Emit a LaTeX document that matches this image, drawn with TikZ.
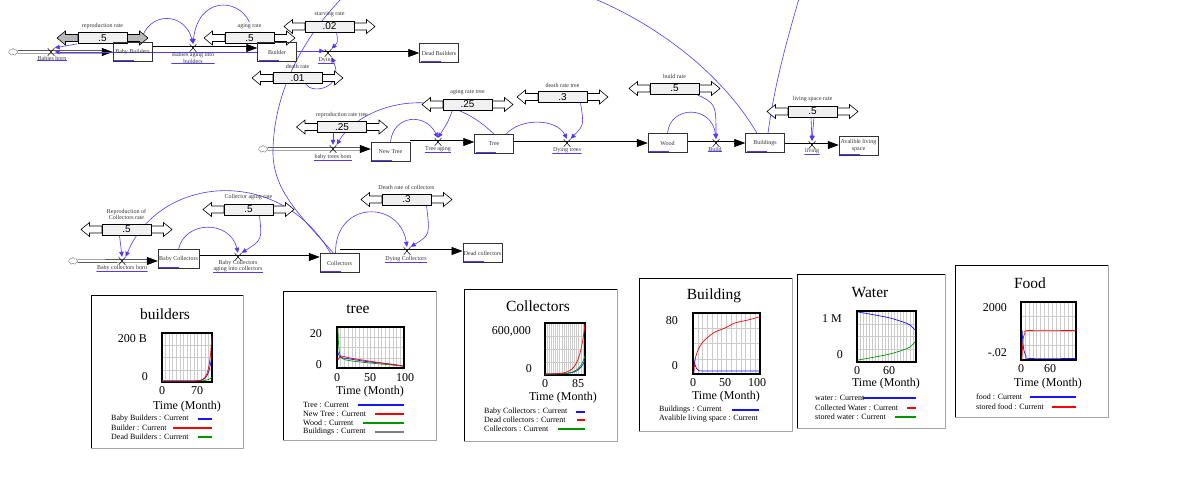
\documentclass[tikz,border=0pt]{standalone}
\usepackage{fontspec}
\setmainfont{Liberation Serif}
\newfontfamily\valfont{Liberation Sans}
\usetikzlibrary{arrows.meta,positioning,calc,shapes.symbols}
\pgfdeclarelayer{behind}
\pgfsetlayers{behind,main}
\definecolor{linkblue}{RGB}{92,52,245}
\definecolor{plotgreen}{RGB}{0,150,0}
\definecolor{plotblue}{RGB}{20,20,255}
\tikzset{
 stock/.style={draw=black!80,line width=.5pt,minimum width=39pt,minimum height=19pt,inner sep=1pt,font=\fontsize{6}{6.5}\selectfont,text=black!80,align=center,
  path picture={\draw[linkblue,line width=.7pt] ([shift={(1pt,1pt)}]path picture bounding box.south west) -- ++(20pt,0);}},
 valve/.style={inner sep=0pt,minimum width=7pt,minimum height=8pt,
  path picture={\draw[line width=.5pt] (path picture bounding box.south west) -- (path picture bounding box.north east) (path picture bounding box.north west) -- (path picture bounding box.south east);}},
 flbl/.style={font=\fontsize{6}{6.5}\selectfont,text=black!80,align=center,inner sep=.6pt,
  path picture={\draw[linkblue,line width=.6pt] ([yshift=.3pt]path picture bounding box.south west) -- ([yshift=.3pt]path picture bounding box.south east);}},
 lbl/.style={font=\fontsize{6}{6.5}\selectfont,text=black!80,align=center,inner sep=.6pt},
 sbox/.style={draw,line width=.6pt,fill=gray!12,minimum width=49pt,minimum height=11pt,inner sep=0pt,font=\valfont\fontsize{10}{10}\selectfont},
 src/.style={cloud,cloud puffs=7,draw=gray,aspect=1.3,minimum width=9pt,minimum height=7pt,inner sep=0pt},
 pipeline/.style={double,double distance=1.8pt,line width=.6pt},
 pipetip/.style={line width=.6pt,-{Triangle[length=11pt,width=8pt]}},
 link/.style={linkblue,line width=.6pt,-{Triangle[length=5pt,width=4.5pt]}},
 linkline/.style={linkblue,line width=.6pt},
 ttl/.style={font=\fontsize{15.5}{15.5}\selectfont,inner sep=0pt},
 ax/.style={font=\fontsize{12}{12}\selectfont,inner sep=0pt},
 lg/.style={font=\fontsize{8}{8}\selectfont,inner sep=0pt,anchor=west},
 legline/.style={line width=1.2pt},
 frame/.style={draw=gray!70,line width=.6pt},
 curve/.style={line width=.7pt}
}
\newcommand\slider[5][white]{%
 \draw[fill=#1,line width=.6pt] (#3) ++(-24.5,3.5) -- ++(-12.5,0) -- ++(0,3.5) -- ++(-8.5,-7) -- ++(8.5,-7) -- ++(0,3.5) -- ++(12.5,0) -- cycle
  (#3) ++(24.5,3.5) -- ++(12.5,0) -- ++(0,3.5) -- ++(8.5,-7) -- ++(-8.5,-7) -- ++(0,3.5) -- ++(-12.5,0) -- cycle;
 \node[sbox] (#2) at (#3) {#4};
 \node[lbl,above=3pt of #2] (#2l) {#5};}
\newcommand\flowpipe[2]{\draw[pipeline] (#1) -- ($(#2)+(-9,0)$); \draw[pipetip] ($(#2)+(-11,0)$) -- (#2);}
\newcommand\plotbox[5]{%
 \fill[white] (#1,#2) rectangle (#3,#4);
 \foreach \i in {1,...,#5}{\draw[gray!40,line width=.5pt] ({#1+(#3-#1)*\i/(#5+1)},#2) -- ({#1+(#3-#1)*\i/(#5+1)},#4);}
 \foreach \j in {1,2,3}{\draw[gray!40,line width=.5pt] (#1,{#2+(#4-#2)*\j/4}) -- (#3,{#2+(#4-#2)*\j/4});}
 \draw[line width=1.8pt] (#1,#2) rectangle (#3,#4);}
\begin{document}
\begin{tikzpicture}[x=1pt,y=-1pt]
\useasboundingbox (0,0) rectangle (1189,489);
\begin{pgfonlayer}{behind}\fill[white] (0,0) rectangle (1189,489);\end{pgfonlayer}
\slider[gray!55]{rr}{102.5,38}{.5}{reproduction rate}
\slider{ar}{249.5,38}{.5}{aging rate}
\slider{sr}{329.5,26.5}{.02}{starving rate}
\slider{dr}{297.5,78}{.01}{death rate}
\slider{rt}{342,127}{.25}{reproduction rate tree}
\slider{agt}{467.5,104.5}{.25}{aging rate tree}
\slider{dt}{562.5,97}{.3}{death rate tree}
\slider{br}{674.5,88.5}{.5}{build rate}
\slider{lr}{812.5,111.5}{.5}{living space rate}
\slider{rcr}{126.5,229.5}{.5}{Reproduction of\\Collectors rate}
\slider{car}{248.5,209.5}{.5}{Collector aging rate}
\slider{dcr}{406.5,199.5}{.3}{Death rate of collectors}
\node[src] (src1) at (13,52) {};
\node[valve] (v1) at (51,52) {};
\node[stock] (bb) at (132.5,52) {Baby Builders};
\node[valve] (v2) at (193,48) {};
\node[stock] (bd) at (277,52) {Builder};
\node[valve] (v3) at (328,53) {};
\node[stock] (db) at (439,53) {Dead Builders};
\node[src] (src2) at (263,149) {};
\node[valve] (v4) at (333,149) {};
\node[stock] (nt) at (390.5,152) {New Tree};
\node[valve] (v5) at (438,142) {};
\node[stock] (tr) at (494,144) {Tree};
\node[valve] (v6) at (567,143) {};
\node[stock] (wd) at (667.5,143) {Wood};
\node[valve] (v7) at (716,143) {};
\node[stock] (bl) at (765,143) {Buildings};
\node[valve] (v8) at (812,145) {};
\node[stock] (als) at (858.5,145.5) {Avalible living\\space};
\node[src] (src3) at (73,261) {};
\node[valve] (v9) at (122,261) {};
\node[stock] (bc) at (178.5,259) {Baby Collectors};
\node[valve] (v10) at (238,257) {};
\node[stock] (co) at (339.5,263) {Collectors};
\node[valve] (v11) at (407,251) {};
\node[stock] (dco) at (482.5,253) {Dead collectors};
\node[flbl] (f1) at (52,58) {Babies born};
\node[flbl] (f2) at (193,58) {Babies aging into\\builders};
\node[flbl] (f3) at (326,60) {Dying};
\node[flbl] (f4) at (333,157) {baby trees born};
\node[flbl] (f5) at (438,149) {Tree aging};
\node[flbl] (f6) at (567,150) {Dying trees};
\node[flbl] (f7) at (715,149) {Build};
\node[flbl] (f8) at (812,151) {living};
\node[flbl] (f9) at (122,268) {Baby collectors born};
\node[flbl] (f10) at (238,266) {Baby Collectors\\aging into collectors};
\node[flbl] (f11) at (406,259) {Dying Collectors};
\coordinate (topa) at (585,-5);
\coordinate (topb) at (800,-5);
\coordinate (topc) at (345,-5);
\coordinate (bend1) at (273,150);
\begin{pgfonlayer}{behind}
\flowpipe{src1.east}{v1 -| bb.west}
\flowpipe{bb.east |- v2}{v2 -| bd.west}
\flowpipe{bd.east |- v3}{v3 -| db.west}
\flowpipe{src2.east}{v4 -| nt.west}
\flowpipe{nt.east |- v5}{v5 -| tr.west}
\flowpipe{tr.east |- v6}{v6 -| wd.west}
\flowpipe{wd.east |- v7}{v7 -| bl.west}
\flowpipe{bl.east |- v8}{v8 -| als.west}
\flowpipe{src3.east}{v9 -| bc.west}
\flowpipe{bc.east |- v10}{v10 -| co.west}
\flowpipe{co.north |- v11}{v11 -| dco.west}
\draw[link] (rr.south west) -- (v1.north east);
\draw[link] (bd.west |- v1) -- (v1.east);
\draw[link] ([xshift=8pt]bb.north) .. controls (148,10) and (185,12) .. (v2.north);
\draw[link] (arl.north) .. controls (238,-3) and (198,-3) .. (v2.north);
\draw[link] ([xshift=7pt]sr.south) .. controls (338,42) .. (v3.north east);
\draw[link] ($(bd.east |- v3)+(0,-2)$) -- ($(v3.west)+(0,-2)$);
\draw[link] ([xshift=8pt]dr.south) .. controls (312,95) and (345,88) .. (v3.south east);
\draw[link] ([xshift=-9pt]rt.south) -- (v4.north);
\draw[link] (tr.north) .. controls (440,80) and (360,105) .. (v4.north east);
\draw[link] (nt.north) .. controls (393,115) and (425,112) .. (v5.north);
\draw[link] ([xshift=-15pt]agt.south) .. controls (448,122) .. (v5.north);
\draw[link] ([xshift=12pt]tr.north) .. controls (520,118) and (556,118) .. (v6.north);
\draw[link] ([xshift=18pt]dt.south) .. controls (584,125) .. (v6.north east);
\draw[link] (wd.north) .. controls (670,105) and (712,105) .. (v7.north);
\draw[link] ([xshift=22pt]br.south) .. controls (716,104) .. (v7.north);
\draw[link] ([xshift=-1.5pt]lr.south) -- (v8.north);
\draw[link] ([xshift=1.5pt]lr.south) -- (v8.north);
\draw[linkline] ([xshift=-8pt]bl.north) .. controls (720,70) and (650,20) .. (topa);
\draw[linkline] ([xshift=3pt]bl.north) .. controls (775,80) and (790,30) .. (topb);
\draw[link] ([xshift=-7pt]rcr.south) -- (v9.north);
\draw[link] ([xshift=-9pt]co.north) .. controls (280,165) and (160,175) .. (v9.north east);
\draw[link] ([xshift=11pt]car.south) .. controls (262,240) .. (v10.north east);
\draw[link] (bc.north) .. controls (185,220) and (230,220) .. (v10.north);
\draw[link] ([xshift=20pt]dcr.south) .. controls (430,235) .. (v11.north east);
\draw[link] ([xshift=-4pt]co.north) .. controls (335,200) and (400,200) .. (v11.north);
\draw[linkline] ([xshift=-6pt]co.north) .. controls (300,215) and (272,190) .. (bend1) .. controls (274,95) and (300,40) .. (topc);
\end{pgfonlayer}
\draw[frame] (91,295) rectangle (243,448); \draw[line width=.6pt] (91,448) -- (91,295) -- (243,295);
\node[ttl] (cb) at (165,314) {builders};
\plotbox{162}{333}{212}{382}{13}
\draw[plotgreen,curve] plot[domain=0:1,samples=40] ({162+50*\x},{381-4*exp(14*(\x-1))});
\draw[plotblue,curve] plot[domain=0:1,samples=40] ({162+50*\x},{381-27*exp(16*(\x-1))});
\draw[red,curve] plot[domain=0:1,samples=40] ({162+50*\x},{381-45*exp(18*(\x-1))});
\node[ax,anchor=east] (cb1) at (147,339) {200 B};
\node[ax,anchor=east] (cb2) at (148,377) {0};
\node[ax] (cb3) at (162,391) {0};
\node[ax] (cb4) at (197,391) {70};
\node[ax] (cb5) at (187,407) {Time (Month)};
\foreach \t/\lc/\s/\y [count=\k] in {Baby Builders/plotblue/198/419,Builder/red/173/428,Dead Builders/plotgreen/198/437}{
\node[lg] (cbl\k) at (111,\y) {\t{} : Current}; \draw[legline,draw=\lc] (\s,\y) -- (212,\y);}
\draw[frame] (283,291) rectangle (436,440); \draw[line width=.6pt] (283,440) -- (283,291) -- (436,291);
\node[ttl] (ct) at (358,309) {tree};
\plotbox{337}{327}{404}{368}{17}
\draw[plotgreen,curve] plot[smooth] coordinates {(338,328) (338.6,345) (340,355) (343,359) (352,361) (370,363) (403,366)};
\draw[plotblue,curve] plot[smooth] coordinates {(338,352) (340,357) (350,359) (370,362) (390,364) (403,366)};
\draw[red,curve] plot[smooth] coordinates {(338,360) (341,356) (350,358) (375,362) (403,366)};
\node[ax,anchor=east] (ct1) at (322,334) {20};
\node[ax,anchor=east] (ct2) at (322,365) {0};
\node[ax] (ct3) at (337,378) {0};
\node[ax] (ct4) at (370,378) {50};
\node[ax] (ct5) at (405,378) {100};
\node[ax] (ct6) at (370,392) {Time (Month)};
\foreach \t/\lc/\s/\y [count=\k] in {Tree/plotblue/358/405,New Tree/red/375/414,Wood/plotgreen/363/423,Buildings/gray/375/432}{
\node[lg] (ctl\k) at (303,\y) {\t{} : Current}; \draw[legline,draw=\lc] (\s,\y) -- (404,\y);}
\draw[frame] (464,289) rectangle (617,441); \draw[line width=.6pt] (464,441) -- (464,289) -- (617,289);
\node[ttl] (cc) at (538,306) {Collectors};
\plotbox{545}{323}{585}{375}{18}
\draw[plotblue,curve] plot[domain=0:1,samples=40] ({545+40*\x},{374-14*exp(7*(\x-1))});
\draw[plotgreen,curve] plot[domain=0:1,samples=40] ({545+40*\x},{374-18*exp(7*(\x-1))});
\draw[red,curve] plot[domain=0:1,samples=40] ({545+40*\x},{374-50*exp(7*(\x-1))});
\node[ax,anchor=east] (cc1) at (531,331) {600,000};
\node[ax,anchor=east] (cc2) at (532,369) {0};
\node[ax] (cc3) at (545,384) {0};
\node[ax] (cc4) at (578,384) {85};
\node[ax] (cc5) at (563,398) {Time (Month)};
\foreach \t/\lc/\s/\y [count=\k] in {Baby Collectors/plotblue/576/412,Dead collectors/red/577/420,Collectors/plotgreen/558/429}{
\node[lg] (ccl\k) at (484,\y) {\t{} : Current}; \draw[legline,draw=\lc] (\s,\y) -- (585,\y);}
\draw[frame] (639,278) rectangle (792,431); \draw[line width=.6pt] (639,431) -- (639,278) -- (792,278);
\node[ttl] (cg) at (714,296) {Building};
\plotbox{693}{313}{760}{374}{13}
\draw[red,curve] plot[smooth] coordinates {(694,373) (695,360) (698,350) (702,343) (708,337) (715,332) (725,328) (735,323) (748,320) (759,317)};
\draw[plotblue,curve] plot[smooth] coordinates {(694,360) (695.5,366) (698,370) (705,371) (759,371)};
\node[ax,anchor=east] (cg1) at (678,321) {80};
\node[ax,anchor=east] (cg2) at (678,366) {0};
\node[ax] (cg3) at (693,383) {0};
\node[ax] (cg4) at (725,383) {50};
\node[ax] (cg5) at (757,383) {100};
\node[ax] (cg6) at (726,397) {Time (Month)};
\node[lg] (cgl1) at (659,410) {Buildings : Current}; \draw[legline,draw=plotblue] (732,410) -- (759,410);
\node[lg] (cgl2) at (659,419) {Avalible living space : Current};
\draw[frame] (797,274) rectangle (945,428); \draw[line width=.6pt] (797,428) -- (797,274) -- (945,274);
\node[ttl] (cw) at (870,293) {Water};
\plotbox{857}{311}{916}{362}{18}
\draw[plotblue,curve] plot[smooth] coordinates {(858,312) (875,315) (890,318) (903,322) (910,325) (915,330)};
\draw[plotgreen,curve] plot[smooth] coordinates {(858,360) (875,357) (890,354) (903,350) (910,347) (915,342)};
\node[ax,anchor=east] (cw1) at (842,319) {1 M};
\node[ax,anchor=east] (cw2) at (843,355) {0};
\node[ax] (cw3) at (857,371) {0};
\node[ax] (cw4) at (889,371) {60};
\node[ax] (cw5) at (886,384) {Time (Month)};
\foreach \t/\lc/\s/\y [count=\k] in {water/plotblue/863/398,Collected Water/red/907/408,stored water/plotgreen/895/417}{
\node[lg] (cwl\k) at (815,\y) {\t{} : Current}; \draw[legline,draw=\lc] (\s,\y) -- (916,\y);}
\draw[frame] (955,265) rectangle (1108,417); \draw[line width=.6pt] (955,417) -- (955,265) -- (1108,265);
\node[ttl] (cf) at (1030,283) {Food};
\plotbox{1021}{302}{1076}{360}{13}
\draw[red,curve] plot[smooth] coordinates {(1022,359) (1023,340) (1025,333) (1029,330.5) (1075,330.5)};
\draw[plotblue,curve] plot[smooth] coordinates {(1022,330) (1023.5,348) (1026,356) (1030,358.5) (1075,358.5)};
\node[ax,anchor=east] (cf1) at (1007,308) {2000};
\node[ax,anchor=east] (cf2) at (1007,353) {-.02};
\node[ax] (cf3) at (1021,369) {0};
\node[ax] (cf4) at (1050,369) {60};
\node[ax] (cf5) at (1048,384) {Time (Month)};
\foreach \t/\lc/\s/\y [count=\k] in {food/plotblue/1030/397,stored food/red/1052/407}{
\node[lg] (cfl\k) at (976,\y) {\t{} : Current}; \draw[legline,draw=\lc] (\s,\y) -- (1076,\y);}
\end{tikzpicture}
\end{document}
